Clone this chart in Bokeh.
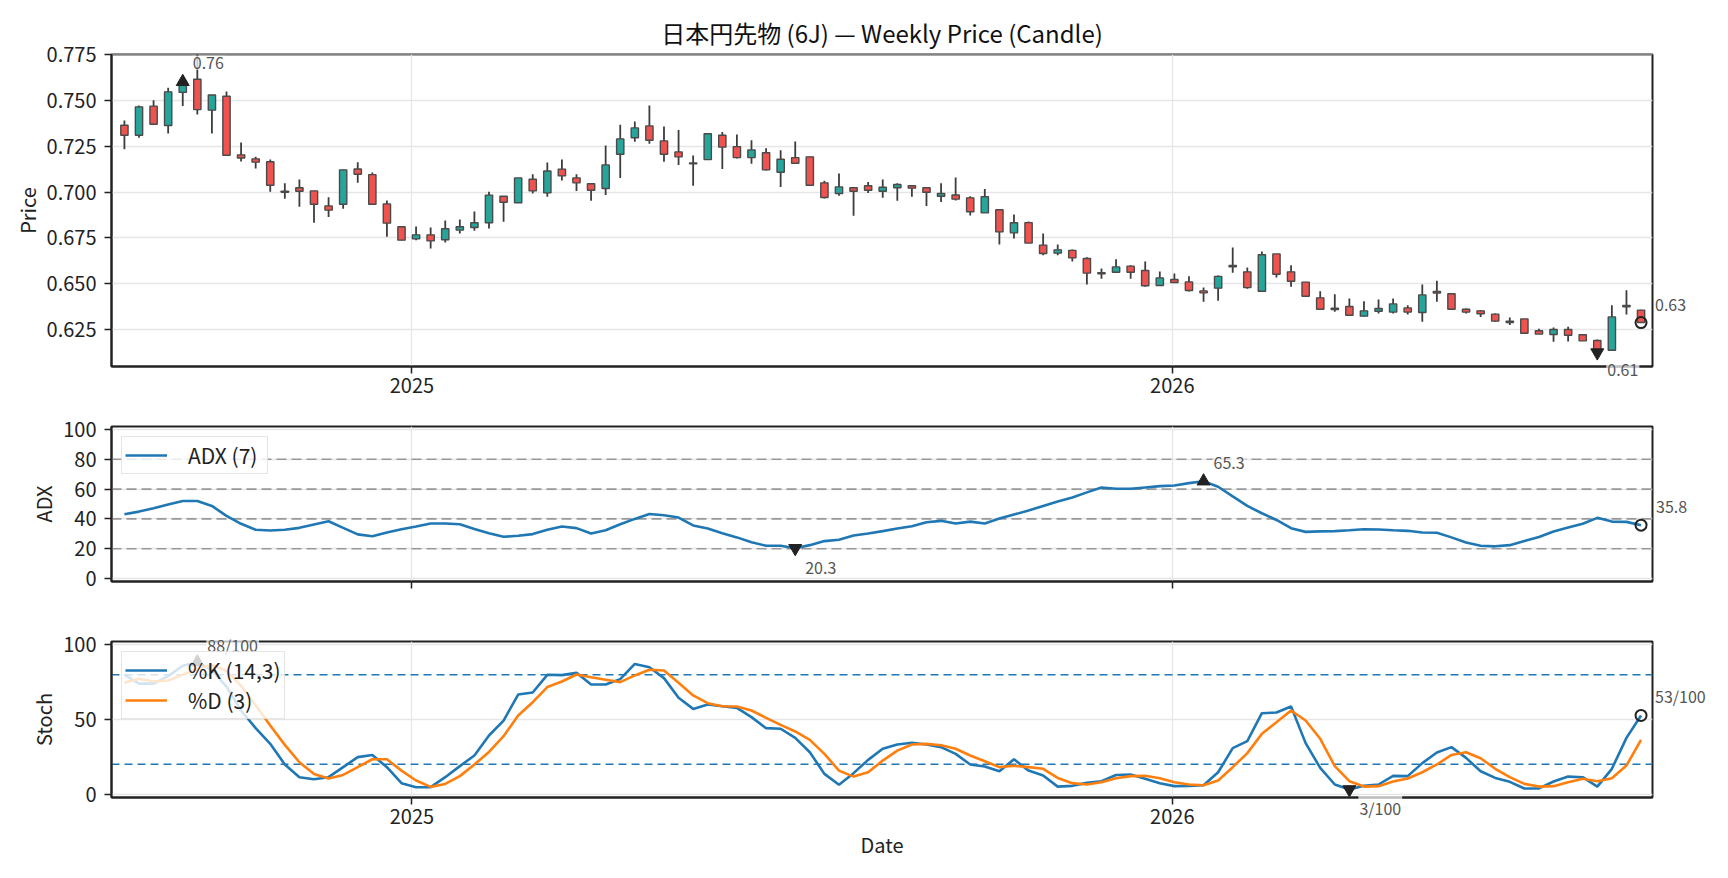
import numpy as np
import pandas as pd
from bokeh.plotting import figure
from bokeh.layouts import column
from bokeh.models import (ColumnDataSource, Range1d, FixedTicker,
                          CustomJSTickFormatter, Label, Span)
from bokeh.embed import file_html
from bokeh.resources import INLINE

FONT = "Noto Sans CJK JP"

# weekly bars (Fridays)
dates = pd.date_range("2024-08-16", periods=105, freq="7D")

open_ = [0.7366, 0.7311, 0.7470, 0.7364, 0.7545, 0.7617, 0.7448, 0.7524, 0.7204, 0.7182,
         0.7166, 0.7005, 0.7024, 0.7007, 0.6925, 0.6934, 0.7127, 0.7096, 0.6936, 0.6811,
         0.6745, 0.6767, 0.6740, 0.6793, 0.6807, 0.6833, 0.6978, 0.6942, 0.7071, 0.6996,
         0.7126, 0.7078, 0.7046, 0.7020, 0.7207, 0.7297, 0.7362, 0.7280, 0.7220, 0.7160,
         0.7178, 0.7311, 0.7249, 0.7189, 0.7215, 0.7109, 0.7189, 0.7193, 0.7051, 0.6993,
         0.7024, 0.7035, 0.7005, 0.7024, 0.7035, 0.7024, 0.6978, 0.6985, 0.6969, 0.6887,
         0.6904, 0.6778, 0.6834, 0.6711, 0.6667, 0.6682, 0.6638, 0.6560, 0.6563, 0.6596,
         0.6572, 0.6490, 0.6523, 0.6510, 0.6461, 0.6476, 0.6600, 0.6565, 0.6459, 0.6663,
         0.6565, 0.6509, 0.6423, 0.6367, 0.6376, 0.6323, 0.6350, 0.6345, 0.6368, 0.6343,
         0.6458, 0.6445, 0.6361, 0.6352, 0.6334, 0.6296, 0.6308, 0.6243, 0.6223, 0.6250,
         0.6221, 0.6190, 0.6137, 0.6381, 0.6356]
high = [0.7391, 0.7473, 0.7502, 0.7571, 0.7612, 0.7755, 0.7531, 0.7550, 0.7271, 0.7193,
        0.7178, 0.7049, 0.7069, 0.7007, 0.6973, 0.7122, 0.7164, 0.7107, 0.6955, 0.6811,
        0.6813, 0.6807, 0.6845, 0.6851, 0.6894, 0.7002, 0.6978, 0.7078, 0.7098, 0.7162,
        0.7178, 0.7098, 0.7046, 0.7255, 0.7369, 0.7386, 0.7473, 0.7359, 0.7339, 0.7200,
        0.7319, 0.7329, 0.7315, 0.7284, 0.7240, 0.7229, 0.7277, 0.7193, 0.7062, 0.7102,
        0.7029, 0.7056, 0.7069, 0.7049, 0.7035, 0.7029, 0.7049, 0.7080, 0.6978, 0.7018,
        0.6904, 0.6878, 0.6840, 0.6774, 0.6714, 0.6687, 0.6645, 0.6583, 0.6634, 0.6601,
        0.6621, 0.6567, 0.6556, 0.6541, 0.6479, 0.6545, 0.6698, 0.6589, 0.6676, 0.6663,
        0.6601, 0.6509, 0.6459, 0.6443, 0.6419, 0.6405, 0.6414, 0.6419, 0.6383, 0.6496,
        0.6516, 0.6445, 0.6365, 0.6356, 0.6338, 0.6316, 0.6308, 0.6254, 0.6261, 0.6265,
        0.6221, 0.6196, 0.6383, 0.6465, 0.6358]
low = [0.7235, 0.7298, 0.7369, 0.7320, 0.7471, 0.7424, 0.7320, 0.7200, 0.7167, 0.7129,
       0.7002, 0.6964, 0.6920, 0.6833, 0.6865, 0.6909, 0.7051, 0.6934, 0.6756, 0.6738,
       0.6738, 0.6692, 0.6725, 0.6774, 0.6789, 0.6802, 0.6838, 0.6942, 0.6993, 0.6975,
       0.7064, 0.7007, 0.6953, 0.6985, 0.7078, 0.7275, 0.7264, 0.7166, 0.7149, 0.7035,
       0.7178, 0.7127, 0.7184, 0.7155, 0.7118, 0.7029, 0.7158, 0.7038, 0.6965, 0.6980,
       0.6871, 0.6996, 0.6969, 0.6953, 0.6975, 0.6925, 0.6947, 0.6955, 0.6873, 0.6887,
       0.6714, 0.6747, 0.6722, 0.6656, 0.6656, 0.6621, 0.6496, 0.6527, 0.6563, 0.6527,
       0.6483, 0.6490, 0.6505, 0.6458, 0.6401, 0.6407, 0.6560, 0.6472, 0.6459, 0.6534,
       0.6483, 0.6432, 0.6361, 0.6347, 0.6328, 0.6323, 0.6338, 0.6338, 0.6332, 0.6292,
       0.6401, 0.6361, 0.6338, 0.6319, 0.6292, 0.6274, 0.6230, 0.6225, 0.6183, 0.6185,
       0.6188, 0.6120, 0.6132, 0.6332, 0.6285]
close = [0.7311, 0.7466, 0.7371, 0.7548, 0.7603, 0.7451, 0.7531, 0.7202, 0.7187, 0.7164,
         0.7038, 0.7000, 0.7005, 0.6934, 0.6902, 0.7122, 0.7098, 0.6934, 0.6831, 0.6738,
         0.6767, 0.6734, 0.6800, 0.6811, 0.6833, 0.6984, 0.6945, 0.7078, 0.7007, 0.7116,
         0.7089, 0.7051, 0.7011, 0.7149, 0.7291, 0.7351, 0.7284, 0.7207, 0.7193, 0.7155,
         0.7319, 0.7246, 0.7189, 0.7231, 0.7122, 0.7180, 0.7158, 0.7038, 0.6971, 0.7029,
         0.7005, 0.7011, 0.7027, 0.7042, 0.7022, 0.7000, 0.6993, 0.6962, 0.6893, 0.6975,
         0.6783, 0.6833, 0.6722, 0.6665, 0.6685, 0.6641, 0.6558, 0.6554, 0.6592, 0.6563,
         0.6489, 0.6532, 0.6507, 0.6463, 0.6450, 0.6540, 0.6592, 0.6479, 0.6658, 0.6552,
         0.6514, 0.6432, 0.6361, 0.6359, 0.6328, 0.6352, 0.6365, 0.6390, 0.6345, 0.6439,
         0.6449, 0.6361, 0.6345, 0.6336, 0.6296, 0.6288, 0.6230, 0.6225, 0.6250, 0.6219,
         0.6188, 0.6124, 0.6319, 0.6374, 0.6288]

adx = [43.1, 44.9, 47.1, 49.6, 52.0, 52.0, 48.7, 42.0, 36.7, 32.7,
       32.2, 32.7, 34.0, 36.2, 38.4, 34.0, 29.6, 28.4, 30.9, 33.1,
       34.9, 36.9, 36.9, 36.4, 33.3, 30.4, 28.0, 28.7, 29.8, 32.7,
       34.9, 33.8, 30.2, 32.4, 36.4, 40.0, 43.3, 42.4, 40.9, 35.6,
       33.6, 30.4, 27.6, 24.4, 22.0, 22.0, 20.3, 22.4, 25.1, 26.0,
       28.9, 30.2, 31.8, 33.6, 35.1, 37.8, 38.7, 36.9, 38.2, 36.9,
       40.2, 42.9, 45.6, 48.7, 51.6, 54.4, 57.8, 61.1, 60.2, 60.2,
       61.1, 62.0, 62.4, 64.0, 65.3, 61.6, 55.1, 48.7, 43.8, 39.3,
       33.8, 31.3, 31.6, 31.8, 32.4, 33.1, 32.9, 32.4, 32.0, 30.9,
       30.7, 27.6, 24.2, 22.0, 21.6, 22.4, 25.1, 27.8, 31.6, 34.2,
       36.7, 40.7, 38.2, 38.0, 35.8]

stoch_k = [80.0, 74.0, 74.0, 79.0, 86.0, 88.4, 83.0, 72.0, 56.0, 44.2,
           33.7, 19.9, 11.4, 10.0, 11.4, 18.1, 24.8, 26.3, 18.1, 7.4,
           4.7, 4.7, 11.4, 18.8, 25.9, 39.3, 49.3, 66.7, 68.1, 79.9,
           79.7, 81.3, 73.4, 73.4, 77.0, 87.2, 85.0, 77.7, 64.5, 57.1,
           60.0, 58.9, 57.8, 51.6, 44.2, 43.8, 37.7, 28.1, 13.6, 6.3,
           14.1, 23.0, 30.4, 33.3, 34.4, 33.3, 31.5, 27.0, 19.9, 18.5,
           15.4, 23.4, 15.8, 12.5, 5.1, 5.6, 7.6, 8.7, 12.9, 13.2,
           10.3, 7.4, 5.4, 5.6, 6.0, 14.7, 30.8, 35.5, 54.2, 54.7,
           58.7, 34.2, 17.6, 6.5, 3.2, 5.6, 6.5, 12.3, 12.1, 20.8,
           27.9, 31.5, 24.3, 15.4, 10.9, 8.3, 3.8, 3.9, 8.5, 11.8,
           11.4, 5.1, 17.0, 37.7, 52.7]
stoch_d = [74.6, 77.2, 75.4, 76.1, 79.9, 84.0, 86.5, 82.5, 72.5, 59.5,
           46.0, 33.0, 21.4, 13.6, 10.5, 12.9, 18.1, 23.4, 23.4, 15.8,
           9.2, 4.9, 6.9, 12.1, 19.9, 28.3, 38.8, 52.7, 61.6, 71.7,
           75.4, 80.1, 78.3, 76.6, 75.0, 79.5, 83.3, 82.8, 74.6, 66.1,
           60.9, 58.9, 58.7, 56.0, 51.1, 46.4, 42.0, 36.4, 27.0, 15.8,
           11.8, 14.7, 22.5, 29.2, 33.3, 33.7, 32.8, 30.4, 25.9, 22.1,
           18.1, 19.0, 18.1, 17.0, 10.9, 7.4, 6.5, 8.0, 10.7, 12.1,
           12.3, 10.7, 8.0, 6.5, 6.0, 9.2, 18.1, 27.5, 40.4, 48.2,
           56.0, 49.3, 37.1, 18.8, 8.7, 5.1, 5.4, 8.5, 10.5, 14.7,
           19.9, 26.3, 28.1, 24.1, 17.0, 11.4, 6.9, 5.1, 5.4, 8.0,
           10.3, 8.7, 10.7, 19.2, 36.4]

year_ticks = [pd.Timestamp("2025-01-01"), pd.Timestamp("2026-01-01")]
price_ticks = [0.625, 0.650, 0.675, 0.700, 0.725, 0.750, 0.775]
adx_ticks = [0, 20, 40, 60, 80, 100]
adx_levels = [20, 40, 60, 80]
stoch_ticks = [0, 50, 100]
stoch_levels = [20, 80]

UP, DOWN = "#26a69a", "#ef5350"
DARK = "#222222"


def ms(ts):
    return ts.value / 1e6


x_range = Range1d(start=dates[0] - pd.Timedelta(days=6.2),
                  end=dates[-1] + pd.Timedelta(days=5.5))
year_fmt = CustomJSTickFormatter(code="return new Date(tick).getUTCFullYear().toString();")
blank_fmt = CustomJSTickFormatter(code="return '';")


def make_fig(height, top, bottom, y_range, titled=False):
    p = figure(width=1720, height=height, x_axis_type="datetime",
               x_range=x_range, y_range=y_range,
               min_border_left=111, min_border_right=68,
               min_border_top=top, min_border_bottom=bottom,
               output_backend="svg", toolbar_location=None)
    if not titled:
        p.title_location = None
    p.outline_line_color = DARK
    p.outline_line_width = 2
    p.background_fill_color = "white"
    p.border_fill_color = "white"
    p.xaxis.ticker = FixedTicker(ticks=[ms(t) for t in year_ticks])
    p.xaxis.formatter = year_fmt
    for ax in p.axis:
        ax.axis_line_color = DARK
        ax.axis_line_width = 2
        ax.major_tick_line_color = DARK
        ax.major_tick_line_width = 1.5
        ax.major_tick_out = 7
        ax.major_tick_in = 0
        ax.minor_tick_line_color = None
        ax.major_label_text_font = FONT
        ax.major_label_text_font_size = "20px"
        ax.major_label_text_color = DARK
        ax.axis_label_text_font = FONT
        ax.axis_label_text_font_size = "20px"
        ax.axis_label_text_font_style = "normal"
        ax.axis_label_text_color = DARK
    p.yaxis.major_label_standoff = 8
    p.yaxis.axis_label_standoff = 2
    p.xaxis.major_label_standoff = 4
    p.xaxis.axis_label_standoff = 3
    p.grid.grid_line_color = "#e6e6e6"
    p.grid.grid_line_width = 1.3
    return p


def annotate(p, i, val, text, kind, dx, dy, side=None):
    if kind == "max":
        p.scatter(x=[dates[i]], y=[val], marker="triangle", size=13,
                  fill_color=DARK, line_color=DARK)
    elif kind == "min":
        p.scatter(x=[dates[i]], y=[val], marker="inverted_triangle", size=13,
                  fill_color=DARK, line_color=DARK)
    else:
        p.scatter(x=[dates[i]], y=[val], marker="circle", size=11,
                  fill_color=None, line_color=DARK, line_width=2)
    lab = Label(x=ms(dates[i]), y=val, x_offset=dx, y_offset=dy, text=text,
                text_font=FONT, text_font_size="16px", text_color="#555555",
                text_align="left", text_baseline="alphabetic",
                background_fill_color="white", background_fill_alpha=0.7,
                border_line_color=None, padding=1)
    # labels that sit outside the frame go into a side panel so they are not clipped
    if side is None:
        p.add_layout(lab)
    else:
        p.add_layout(lab, side)


def style_legend(p, label_width):
    leg = p.legend[0]
    leg.location = "top_left"
    leg.margin = 10
    leg.padding = 3
    leg.spacing = 0
    leg.label_standoff = 21
    leg.glyph_width = 42
    leg.glyph_height = 20
    leg.label_width = label_width
    leg.label_text_font = FONT
    leg.label_text_font_size = "21px"
    leg.label_text_color = DARK
    leg.border_line_color = "#cccccc"
    leg.border_line_width = 1.5
    leg.background_fill_alpha = 0.8


# ---- price panel ----
p1 = make_fig(405, 54, 39, Range1d(0.6048, 0.7752), titled=True)
p1.title.text = "日本円先物 (6J) — Weekly Price (Candle)"
p1.title.align = "center"
p1.title.text_font = FONT
p1.title.text_font_size = "24px"
p1.title.text_font_style = "normal"
p1.title.text_color = "#111111"
p1.title.standoff = 10
p1.yaxis.axis_label = "Price"
p1.yaxis.ticker = FixedTicker(ticks=price_ticks)
p1.yaxis.formatter = CustomJSTickFormatter(code="return tick.toFixed(3);")

o = np.array(open_)
c = np.array(close)
src = ColumnDataSource(dict(date=dates, h=high, l=low,
                            top=np.maximum(o, c), bot=np.minimum(o, c),
                            color=np.where(c >= o, UP, DOWN)))
p1.segment(x0="date", y0="l", x1="date", y1="h", source=src,
           line_color="#3d3d3d", line_width=1.8)
p1.vbar(x="date", width=3.5 * 86400000, top="top", bottom="bot", source=src,
        fill_color="color", line_color="#4a4a4a", line_width=1.4)

imax, imin = int(np.argmax(c)), int(np.argmin(c))
annotate(p1, imax, close[imax], f"{close[imax]:.2f}", "max", 9, 19)
annotate(p1, imin, close[imin], f"{close[imin]:.2f}", "min", 9, -17, "right")
annotate(p1, len(c) - 1, close[-1], f"{close[-1]:.2f}", "last", 13, 18, "right")

# ---- ADX panel (tick marks only on the shared date axis) ----
p2 = make_fig(184, 21, 8, Range1d(-2, 102))
p2.xaxis.formatter = blank_fmt
p2.xaxis.major_label_standoff = -30
p2.yaxis.axis_label = "ADX"
p2.yaxis.ticker = FixedTicker(ticks=adx_ticks)
for lv in adx_levels:
    p2.add_layout(Span(location=lv, dimension="width", line_color="#999999",
                       line_dash="10 5", line_width=1.6, level="underlay"))
p2.line(dates, adx, line_color="#1f77b4", line_width=2.6, legend_label="ADX (7)")
a = np.array(adx)
amax, amin = int(np.argmax(a)), int(np.argmin(a))
annotate(p2, amax, adx[amax], f"{adx[amax]:.1f}", "max", 9, 18)
annotate(p2, amin, adx[amin], f"{adx[amin]:.1f}", "min", 9, -20)
annotate(p2, len(a) - 1, adx[-1], f"{adx[-1]:.1f}", "last", 14, 18, "right")
style_legend(p2, 76)

# ---- Stochastic panel ----
p3 = make_fig(289, 52, 81, Range1d(-2.2, 102.2))
p3.yaxis.axis_label = "Stoch"
p3.xaxis.axis_label = "Date"
p3.yaxis.ticker = FixedTicker(ticks=stoch_ticks)
for lv in stoch_levels:
    p3.add_layout(Span(location=lv, dimension="width", line_color="#1f77b4",
                       line_dash="8 5", line_width=1.5, level="underlay"))
p3.line(dates, stoch_k, line_color="#1f77b4", line_width=2.6, legend_label="%K (14,3)")
p3.line(dates, stoch_d, line_color="#ff7f0e", line_width=2.6, legend_label="%D (3)")
k = np.array(stoch_k)
kmax, kmin = int(np.argmax(k)), int(np.argmin(k))
annotate(p3, kmax, stoch_k[kmax], f"{round(stoch_k[kmax])}/100", "max", 9, 17, "above")
annotate(p3, kmin, stoch_k[kmin], f"{round(stoch_k[kmin])}/100", "min", 9, -19, "above")
annotate(p3, len(k) - 1, stoch_k[-1], f"{round(stoch_k[-1])}/100", "last", 13, 19, "right")
style_legend(p3, 93)

layout = column(p1, p2, p3)
open("out.html", "w").write(file_html(layout, INLINE))
